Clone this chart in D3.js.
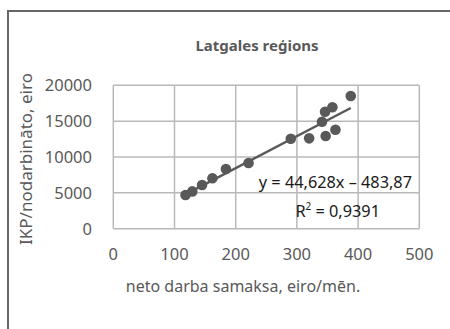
<!DOCTYPE html>
<html><head><meta charset="utf-8">
<script src="https://cdn.jsdelivr.net/npm/d3@7"></script>
<style>body{margin:0;background:#fff}svg{display:block}text{font-family:"Noto Sans",sans-serif}</style>
</head><body>
<svg id="c" width="450" height="329"></svg>
<script>
const xValues = [118, 129, 145, 162, 184, 221, 290, 320, 341, 346, 358, 347, 363, 388];
const yValues = [4700, 5200, 6100, 7030, 8330, 9160, 12550, 12600, 14920, 16320, 16930, 12930, 13810, 18500];
const xTicks = [0, 100, 200, 300, 400, 500];
const yTicks = [0, 5000, 10000, 15000, 20000];
const slope = 44.628, intercept = -483.87;
const title = "Latgales reģions";
const xTitle = "neto darba samaksa, eiro/mēn.";
const yTitle = "IKP/nodarbināto, eiro";

const svg = d3.select("#c");
const x = d3.scaleLinear().domain([0, 500]).range([113.3, 419.3]);
const y = d3.scaleLinear().domain([0, 20000]).range([228.7, 85.3]);

// outer frame
svg.append("path").attr("d", "M8,330 V11 H452").attr("fill", "none").attr("stroke", "#666").attr("stroke-width", 2);

// gridlines
const g = svg.append("g");
g.selectAll(".vx").data(xTicks).join("line")
  .attr("x1", d => x(d)).attr("x2", d => x(d)).attr("y1", y(0)).attr("y2", y(20000))
  .attr("stroke", "#b8b8b8").attr("stroke-width", 1.5);
g.selectAll(".hy").data(yTicks).join("line")
  .attr("x1", x(0)).attr("x2", x(500)).attr("y1", d => y(d)).attr("y2", d => y(d))
  .attr("stroke", "#b8b8b8").attr("stroke-width", 1.5);

// tick labels
svg.selectAll(".xt").data(xTicks).join("text")
  .attr("x", d => x(d)).attr("y", 259.5).attr("text-anchor", "middle")
  .attr("font-size", 16.5).attr("fill", "#595959").text(d => d);
svg.selectAll(".yt").data(yTicks).join("text")
  .attr("x", 92).attr("y", d => y(d) + 5.8).attr("text-anchor", "end")
  .attr("font-size", 16.5).attr("fill", "#595959").text(d => d);

// titles
svg.append("text").attr("x", 257).attr("y", 51).attr("text-anchor", "middle")
  .attr("font-size", 15).attr("font-weight", "bold").attr("fill", "#595959").text(title);
svg.append("text").attr("x", 243).attr("y", 292).attr("text-anchor", "middle")
  .attr("font-size", 16).attr("fill", "#595959").text(xTitle);
svg.append("text").attr("transform", "translate(32,159) rotate(-90)").attr("text-anchor", "middle")
  .attr("font-size", 17).attr("fill", "#595959").text(yTitle);

// points
svg.selectAll(".pt").data(xValues.map((v, i) => [v, yValues[i]])).join("circle")
  .attr("cx", d => x(d[0])).attr("cy", d => y(d[1])).attr("r", 5.3).attr("fill", "#595959");

// trendline
const x0 = d3.min(xValues), x1 = d3.max(xValues);
svg.append("line").attr("x1", x(x0)).attr("y1", y(slope * x0 + intercept))
  .attr("x2", x(x1)).attr("y2", y(slope * x1 + intercept))
  .attr("stroke", "#595959").attr("stroke-width", 2.5);

// equation
svg.append("text").attr("x", 412).attr("y", 188).attr("text-anchor", "end")
  .attr("font-size", 16.3).attr("fill", "#1a1a1a").text("y = 44,628x – 483,87");
const r = svg.append("text").attr("x", 380).attr("y", 217).attr("text-anchor", "end")
  .attr("font-size", 16.3).attr("fill", "#1a1a1a");
r.append("tspan").text("R");
r.append("tspan").attr("font-size", 10).attr("dy", -7).text("2");
r.append("tspan").attr("dy", 7).text(" = 0,9391");
</script>
</body></html>
